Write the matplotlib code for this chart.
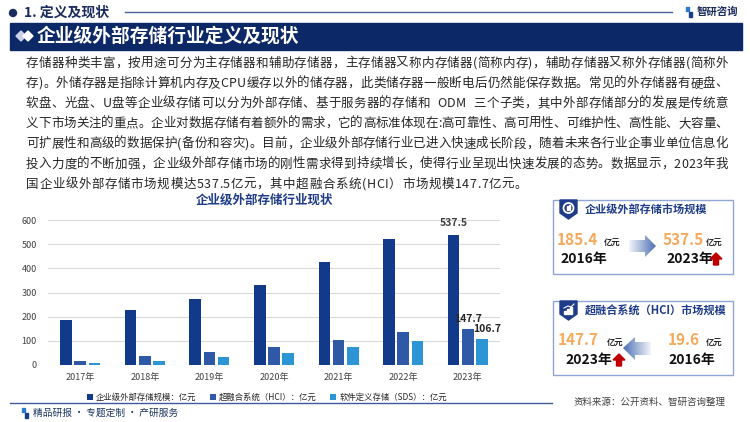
import numpy as np
import matplotlib.pyplot as plt
from matplotlib.patches import Rectangle, Polygon, Circle
from matplotlib.font_manager import FontProperties

plt.rcParams['font.family'] = ['Noto Sans CJK SC', 'DejaVu Sans']

# ---- data ----
years = ['2017年', '2018年', '2019年', '2020年', '2021年', '2022年', '2023年']
scale = [186, 226, 274, 332, 426, 523, 537.5]
hci = [18, 37, 54, 74, 105, 137, 147.7]
sds = [8, 18, 33, 50, 73, 99, 106.7]
series_names = ['企业级外部存储规模：亿元', '超融合系统（HCI）：亿元', '软件定义存储（SDS）：亿元']
colors = ['#123A8B', '#2F58A6', '#2C95D6']

paragraph = [
    '存储器种类丰富，按用途可分为主存储器和辅助存储器，主存储器又称内存储器(简称内存)，辅助存储器又称外存储器(简称外',
    '存)。外储存器是指除计算机内存及CPU缓存以外的储存器，此类储存器一般断电后仍然能保存数据。常见的外存储器有硬盘、',
    '软盘、光盘、U盘等企业级存储可以分为外部存储、基于服务器的存储和  ODM  三个子类，其中外部存储部分的发展是传统意',
    '义下市场关注的重点。企业对数据存储有着额外的需求，它的高标准体现在:高可靠性、高可用性、可维护性、高性能、大容量、',
    '可扩展性和高级的数据保护(备份和容灾)。目前，企业级外部存储行业已进入快速成长阶段，随着未来各行业企事业单位信息化',
    '投入力度的不断加强，企业级外部存储市场的刚性需求得到持续增长，使得行业呈现出快速发展的态势。数据显示，2023年我',
    '国企业级外部存储市场规模达537.5亿元，其中超融合系统(HCI）市场规模147.7亿元。',
]

navy = '#0C2867'
orange = '#F5A95B'

fig = plt.figure(figsize=(7.5, 4.22), dpi=100)
fig.patch.set_facecolor('white')

# background layer in pixel coordinates
bg = fig.add_axes([0, 0, 1, 1])
bg.set_xlim(0, 750)
bg.set_ylim(422, 0)
bg.axis('off')

# header
bg.add_patch(Circle((13, 13), 3.5, color='#1A2B5C'))
bg.text(24, 13, '1. 定义及现状', fontsize=10, weight='bold', color='#1A2B5C', va='center')
bg.plot([125, 672], [12, 12], color='#4A5F9E', lw=1)
bg.add_patch(Rectangle((686, 7), 3, 4, color='#2C7BD0'))
bg.add_patch(Rectangle((689, 12), 3, 5, color='#1A3C8C'))
bg.text(697, 12, '智研咨询', fontsize=7.5, weight='bold', color='#1A2B5C', va='center')

# banner
bg.add_patch(Rectangle((10, 23), 732, 27, color=navy))
bg.add_patch(Polygon([(21, 31), (26, 36), (21, 41), (16, 36)], color='#C8D3EA'))
bg.add_patch(Polygon([(28, 31), (33, 36), (28, 41), (23, 36)], color='white'))
bg.text(37, 36.5, '企业级外部存储行业定义及现状', fontsize=13.5, weight='bold', color='white', va='center')

# justified paragraph
renderer = fig.canvas.get_renderer()
prop = FontProperties(family=['Noto Sans CJK SC', 'DejaVu Sans'], size=9)
x0, x1 = 26, 728
for i, line in enumerate(paragraph):
    widths = []
    for ch in line:
        if ch == ' ':
            widths.append(3.5)
        else:
            w, h, d = renderer.get_text_width_height_descent(ch, prop, ismath=False)
            widths.append(w)
    if i < len(paragraph) - 1:
        gap = (x1 - x0 - sum(widths)) / (len(line) - 1)
    else:
        gap = 0.6
    cx = x0
    y = 63 + 20.2 * i
    for ch, w in zip(line, widths):
        if ch != ' ':
            bg.text(cx, y, ch, fontproperties=prop, color='#262626', va='center', ha='left')
        cx += w + gap

# chart title
bg.text(265, 200, '企业级外部存储行业现状', fontsize=9, weight='bold', color='#1F3C88',
        ha='center', va='center')

# bar chart
ax = fig.add_axes([48 / 750, 1 - 365 / 422, (500 - 48) / 750, 145 / 422])
ax.patch.set_alpha(0)
x = np.arange(len(years))
bw = 0.18
off = 0.22
series = [scale, hci, sds]
for k, (vals, c, name) in enumerate(zip(series, colors, series_names)):
    ax.bar(x + (k - 1) * off, vals, bw, color=c, label=name, zorder=3)
ax.set_ylim(0, 600)
ax.set_xlim(-0.5, len(years) - 0.5)
ax.set_yticks(range(0, 601, 100))
ax.set_xticks(x, years)
ax.yaxis.grid(True, color='#D9D9D9', lw=0.8, zorder=0)
for s in ax.spines.values():
    s.set_visible(False)
ax.tick_params(length=0, labelsize=6.5, colors='#404040')
ax.tick_params(axis='y', pad=8)
ax.tick_params(axis='x', pad=6)

# labels on last year
ax.annotate(f'{scale[-1]}', (x[-1] - off, scale[-1]), xytext=(0, 5), textcoords='offset points',
            ha='center', va='bottom', fontsize=7.5, weight='bold', color='#404040')
ax.annotate(f'{hci[-1]}', (x[-1], hci[-1]), xytext=(0, 4), textcoords='offset points',
            ha='center', va='bottom', fontsize=7.5, weight='bold', color='#262626')
ax.annotate(f'{sds[-1]}', (x[-1] + off, sds[-1]), xytext=(4, 4), textcoords='offset points',
            ha='center', va='bottom', fontsize=7.5, weight='bold', color='#262626')

ax.legend(loc='center', bbox_to_anchor=(267 / 750, 1 - 397 / 422), bbox_transform=fig.transFigure,
          ncol=3, frameon=False, fontsize=6, handlelength=0.7, handleheight=0.7,
          handletextpad=0.4, columnspacing=1.6, labelcolor='#262626')

# footer
bg.plot([10, 552], [403, 403], color='#3F5A9A', lw=1)
bg.add_patch(Rectangle((22, 408), 3, 4, color='#2C7BD0'))
bg.add_patch(Rectangle((25, 413), 3, 5, color='#1A3C8C'))
bg.text(33, 413, '精品研报 · 专题定制 · 产研服务', fontsize=7, color='#1F3864', va='center')
bg.text(574, 402, '资料来源：公开资料、智研咨询整理', fontsize=6.8, color='#404040', va='center')


# right info boxes
def gradient_arrow(pts, x_from, x_to, left_dark):
    poly = Polygon(pts, closed=True, facecolor='none', edgecolor='none')
    bg.add_patch(poly)
    grad = np.linspace(0, 1, 100).reshape(1, -1)
    if left_dark:
        grad = grad[:, ::-1]
    ys = [p[1] for p in pts]
    im = bg.imshow(grad, cmap=plt.matplotlib.colors.LinearSegmentedColormap.from_list(
        'g', ['#F2F5FB', '#4D6FB3']), extent=(x_from, x_to, max(ys), min(ys)),
        aspect='auto', zorder=2)
    im.set_clip_path(poly)


def red_up(cx, top):
    bg.add_patch(Polygon([(cx, top), (cx + 6, top + 6), (cx + 2.5, top + 6), (cx + 2.5, top + 12),
                          (cx - 2.5, top + 12), (cx - 2.5, top + 6), (cx - 6, top + 6)],
                         color='#C00000'))


def box(top, title):
    bg.add_patch(Rectangle((553, top), 180, 74, facecolor='white', edgecolor='#8FA5D6', lw=1))
    bg.add_patch(Polygon([(560, top), (577, top), (577, top + 13), (568.5, top + 19), (560, top + 13)],
                         color='#1F3C88'))
    bg.text(585, top + 10, title, fontsize=8, weight='bold', color='#1F3C88', va='center')


num_fs = 11
year_fs = 10

box(200, '企业级外部存储市场规模')
bg.add_patch(Circle((568.5, 208), 5, facecolor='none', edgecolor='white', lw=1.3))
bg.add_patch(Rectangle((566.5, 206), 1.2, 4, color='white'))
bg.add_patch(Rectangle((569, 205), 1.2, 5, color='white'))
bg.text(557, 240, '185.4', fontsize=num_fs, weight='bold', color=orange, va='center')
bg.text(604, 243, '亿元', fontsize=6, weight='bold', color='#262626', va='center')
bg.text(560, 259, '2016年', fontsize=year_fs, weight='bold', color='#111111', va='center')
gradient_arrow([(629, 240), (645, 240), (645, 235), (656, 246), (645, 257), (645, 252), (629, 252)],
               629, 656, False)
bg.text(663, 240, '537.5', fontsize=num_fs, weight='bold', color=orange, va='center')
bg.text(706, 243, '亿元', fontsize=6, weight='bold', color='#262626', va='center')
bg.text(666, 259, '2023年', fontsize=year_fs, weight='bold', color='#111111', va='center')
red_up(716, 253)

box(301, '超融合系统（HCI）市场规模')
for j, hgt in enumerate([3, 5, 7]):
    bg.add_patch(Rectangle((564 + j * 3, 314 - hgt), 2, hgt, color='white'))
bg.plot([564, 568, 571, 574], [308, 306, 307, 304], color='white', lw=0.8)
bg.text(558, 340, '147.7', fontsize=num_fs, weight='bold', color=orange, va='center')
bg.text(607, 343, '亿元', fontsize=6, weight='bold', color='#262626', va='center')
bg.text(565, 360, '2023年', fontsize=year_fs, weight='bold', color='#111111', va='center')
red_up(619, 354)
gradient_arrow([(623, 348), (635, 337), (635, 342), (651, 342), (651, 355), (635, 355), (635, 360)],
               623, 651, True)
bg.text(668, 340, '19.6', fontsize=num_fs, weight='bold', color=orange, va='center')
bg.text(706, 343, '亿元', fontsize=6, weight='bold', color='#262626', va='center')
bg.text(668, 360, '2016年', fontsize=year_fs, weight='bold', color='#111111', va='center')

fig.savefig('out.png', dpi=100)
